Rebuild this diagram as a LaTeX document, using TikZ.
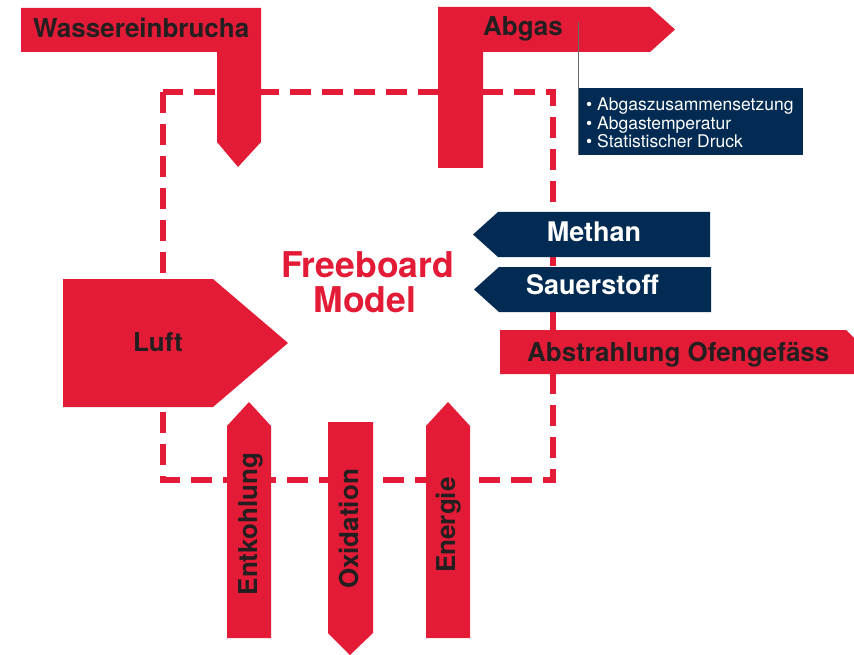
\documentclass[tikz,border=0pt]{standalone}
\usepackage{fontspec}
\setmainfont{TeX Gyre Heros}
\definecolor{fbred}{HTML}{E31B37}
\definecolor{fbnavy}{HTML}{022B53}
\definecolor{fbtext}{HTML}{231F20}
\definecolor{fbline}{HTML}{6A6A6A}
\begin{document}
\begin{tikzpicture}[x=1pt,y=-1pt,
  redshape/.style={fill=fbred},
  navyshape/.style={fill=fbnavy},
  boldlabel/.style={font=\fontsize{26}{30}\selectfont\bfseries, text=fbtext, inner sep=0pt},
  whitelabel/.style={font=\fontsize{27}{30}\selectfont\bfseries, text=white, inner sep=0pt},
  titlelabel/.style={font=\fontsize{35.5}{36}\selectfont\bfseries, text=fbred, inner sep=0pt},
  infolabel/.style={font=\fontsize{17.5}{18.5}\selectfont, text=white, inner sep=0pt, anchor=base west},
  dashbox/.style={draw=fbred, line width=6.5pt, dash pattern=on 21pt off 11pt}]
\useasboundingbox (0,0) rectangle (854,655);
\fill[white] (0,0) rectangle (854,655);

% dashed system boundary
\draw[dashbox] (163,92) rectangle (553,480);

% Wassereinbrucha
\fill[redshape] (21,8) -- (261,8) -- (261,142) -- (238,167) -- (217,142) -- (217,52) -- (21,52) -- cycle;
\node[boldlabel, anchor=base west] (wasser) at (33,38) {Wassereinbrucha};

% Abgas
\fill[redshape] (438,168) -- (438,7) -- (650,7) -- (675,29.5) -- (650,52) -- (483,52) -- (483,168) -- cycle;
\node[boldlabel, anchor=base west] (abgas) at (483,36) {Abgas};

% info box
\node[fill=fbnavy, anchor=north west, minimum width=225pt, minimum height=67pt, inner sep=0pt] (info) at (578,88) {};
\coordinate (abgasline) at (578,22);
\draw[fbline, line width=1pt] (abgasline) -- (info.south west);
\node[infolabel] (info1) at (586,111) {• Abgaszusammensetzung};
\node[infolabel] (info2) at (586,129.5) {• Abgastemperatur};
\node[infolabel] (info3) at (586,148) {• Statistischer Druck};

% Methan
\fill[navyshape] (473,234.5) -- (498,212) -- (710,212) -- (710,257) -- (498,257) -- cycle;
\node[whitelabel, anchor=base] (methan) at (594,242) {Methan};

% Sauerstoff
\fill[navyshape] (474,289.5) -- (499,267) -- (711,267) -- (711,312) -- (499,312) -- cycle;
\node[whitelabel, anchor=base] (sauer) at (592.5,294) {Sauerstoff};

% Abstrahlung
\fill[redshape] (500,330) -- (846,330) -- (854,338) -- (854,374) -- (500,374) -- cycle;
\node[boldlabel, anchor=base west] (abstr) at (527,361) {Abstrahlung Ofengefäss};

% Luft
\fill[redshape] (63,279) -- (213,279) -- (288,343) -- (213,407) -- (63,407) -- cycle;
\node[boldlabel, anchor=base west] (luft) at (133,351) {Luft};

% Entkohlung
\fill[redshape] (227,638) -- (227,426) -- (249,402) -- (271,426) -- (271,638) -- cycle;
\node[boldlabel, anchor=base, rotate=90] (entk) at (257,524) {Entkohlung};

% Oxidation
\fill[redshape] (328,422) -- (373,422) -- (373,633) -- (350,655) -- (328,633) -- cycle;
\node[boldlabel, anchor=base, rotate=90] (oxid) at (358,529) {Oxidation};

% Energie
\fill[redshape] (426,638) -- (426,426) -- (448,402) -- (470,426) -- (470,638) -- cycle;
\node[boldlabel, anchor=base, rotate=90] (energ) at (455,525) {Energie};

% title
\node[titlelabel, anchor=base] (fb1) at (367.5,277) {Freeboard};
\node[titlelabel, anchor=base] (fb2) at (365,312) {Model};
\end{tikzpicture}
\end{document}
